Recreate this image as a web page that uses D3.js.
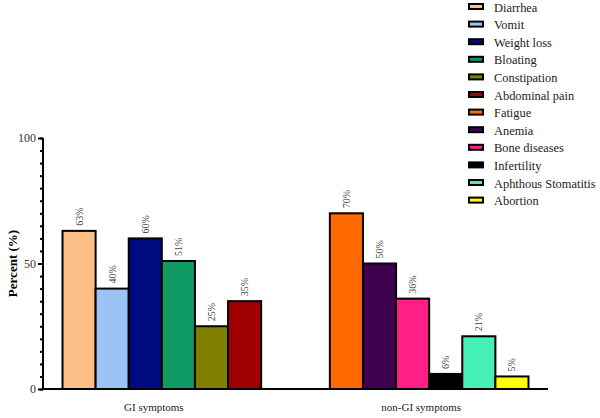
<!DOCTYPE html>
<html>
<head>
<meta charset="utf-8">
<script src="https://cdn.jsdelivr.net/npm/d3@7"></script>
</head>
<body style="margin:0">
<svg id="chart" width="600" height="418"></svg>
<script>
// groups on the x axis
const groups = ["GI symptoms", "non-GI symptoms"];

// symptoms per group, same order as the bars
const giSymptoms = ["Diarrhea", "Vomit", "Weight loss", "Bloating", "Constipation", "Abdominal pain"];
const giValues = [63, 40, 60, 51, 25, 35];

const nonGiSymptoms = ["Fatigue", "Anemia", "Bone diseases", "Infertility", "Aphthous Stomatitis", "Abortion"];
const nonGiValues = [70, 50, 36, 6, 21, 5];

const symptomColors = ["#FDBF85", "#9CC3F5", "#000A80", "#0F9963", "#808000", "#A00000",
                       "#FF6A00", "#3F0050", "#FF1F87", "#000000", "#44F0B3", "#FFFF00"];

const yTicks = [0, 50, 100];

const svg = d3.select("#chart");
const margin = { left: 43, right: 52, top: 138, bottom: 29 };
const width = 600, height = 418;

// serif text helper, same way for every label
function serif(sel, size) {
  return sel.attr("font-family", "Liberation Serif")
    .style("font-family", "'Liberation Serif'")
    .attr("font-size", size);
}

const allSymptoms = giSymptoms.concat(nonGiSymptoms);
const color = d3.scaleOrdinal().domain(allSymptoms).range(symptomColors);

const bars = [
  ...giSymptoms.map((s, i) => ({ group: groups[0], idx: i, name: s, value: giValues[i] })),
  ...nonGiSymptoms.map((s, i) => ({ group: groups[1], idx: i, name: s, value: nonGiValues[i] }))
];

const x0 = d3.scaleBand().domain(groups)
  .range([margin.left, width - margin.right])
  .paddingInner(0.257).paddingOuter(0.073);
const x1 = d3.scaleBand().domain(d3.range(6)).range([0, x0.bandwidth()]).padding(0);
const y = d3.scaleLinear().domain([0, 100]).range([height - margin.bottom, margin.top]);

// bars
svg.append("g").selectAll("rect")
  .data(bars)
  .join("rect")
    .attr("x", d => x0(d.group) + x1(d.idx))
    .attr("y", d => y(d.value))
    .attr("width", x1.bandwidth())
    .attr("height", d => y(0) - y(d.value))
    .attr("fill", d => color(d.name))
    .attr("stroke", "#000")
    .attr("stroke-width", 2);

// value labels, rotated
svg.append("g").selectAll("text")
  .data(bars)
  .join("text")
    .attr("transform", d => `translate(${x0(d.group) + x1(d.idx) + x1.bandwidth() / 2 + 3.5},${y(d.value) - 5}) rotate(-90)`)
    .call(serif, 10)
    .attr("fill", "#444")
    .text(d => d.value + "%");

// y axis with minor ticks
const yAxis = svg.append("g").attr("transform", `translate(${margin.left},0)`);
yAxis.call(d3.axisLeft(y).tickValues(d3.range(0, 101, 5)).tickSize(3).tickFormat(""))
  .call(g => g.select(".domain").remove())
  .call(g => g.selectAll("line").attr("stroke", "#000").attr("stroke-width", 2));
const yMajor = yAxis.append("g")
  .call(d3.axisLeft(y).tickValues(yTicks).tickSize(5).tickPadding(2));
yMajor.attr("font-family", null).attr("font-size", null);
yMajor.select(".domain").remove();
yMajor.selectAll("line").attr("stroke", "#000").attr("stroke-width", 2);
yMajor.selectAll("text").call(serif, 12).attr("fill", "#333");
yAxis.append("line")
  .attr("y1", y(0) + 1).attr("y2", y(100))
  .attr("stroke", "#000").attr("stroke-width", 2);

// x axis line
svg.append("line")
  .attr("x1", margin.left).attr("x2", width - margin.right)
  .attr("y1", y(0)).attr("y2", y(0))
  .attr("stroke", "#000").attr("stroke-width", 2);

// category labels
svg.append("g").selectAll("text")
  .data(groups)
  .join("text")
    .attr("x", d => x0(d) + x0.bandwidth() / 2 - 8)
    .attr("y", 411)
    .attr("text-anchor", "middle")
    .call(serif, 11)
    .attr("fill", "#222")
    .text(d => d);

// y title
svg.append("text")
  .attr("transform", `translate(17,${(y(0) + y(100)) / 2}) rotate(-90)`)
  .attr("text-anchor", "middle")
  .call(serif, 13)
  .attr("font-weight", "bold")
  .text("Percent (%)");

// legend
const legend = svg.append("g").attr("transform", "translate(469,7)");
const row = legend.selectAll("g")
  .data(allSymptoms)
  .join("g")
    .attr("transform", (d, i) => `translate(0,${i * 17.6})`);
row.append("rect")
  .attr("x", 0).attr("y", -3)
  .attr("width", 14).attr("height", 5)
  .attr("fill", d => color(d))
  .attr("stroke", "#000").attr("stroke-width", 2);
row.append("text")
  .attr("x", 25).attr("y", 4.5)
  .call(serif, 12.4)
  .attr("fill", "#222")
  .text(d => d);
</script>
</body>
</html>
